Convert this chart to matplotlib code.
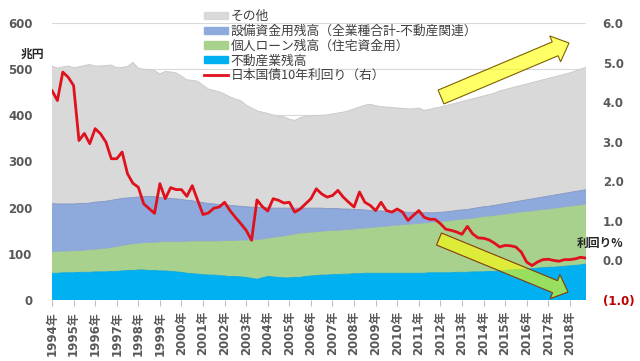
import numpy as np
import matplotlib
matplotlib.use("Agg")
import matplotlib.pyplot as plt
import matplotlib.patches as mpatches
from matplotlib.transforms import IdentityTransform

plt.rcParams['font.family'] = ['DejaVu Sans', 'Noto Sans CJK JP']

# quarterly, 1994Q1 .. 2018Q4 (tops of each stacked band, 兆円)
years = list(range(1994, 2019))
year_labels = [f"{y}年" for y in years]

total_top = [507, 502, 505, 507, 503, 505, 508, 510, 507, 507,
             508, 509, 503, 504, 506, 515, 502, 500, 499, 497,
             490, 495, 494, 492, 485, 477, 476, 474, 465, 457,
             454, 451, 446, 440, 435, 432, 422, 416, 410, 407,
             404, 401, 398, 397, 392, 389, 395, 398, 399, 400,
             400, 401, 403, 405, 407, 410, 414, 418, 422, 424,
             421, 419, 418, 417, 416, 415, 414, 414, 416, 411,
             413, 416, 418, 421, 424, 427, 430, 433, 436, 439,
             442, 445, 448, 453, 456, 459, 462, 465, 468, 471,
             474, 477, 480, 483, 486, 489, 492, 496, 500, 504]

equip_top = [209, 208, 208, 208, 208, 209, 209, 210, 212, 213,
             214, 216, 218, 220, 221, 222, 223, 224, 224, 224,
             222, 221, 220, 219, 218, 216, 215, 213, 211, 209,
             208, 207, 206, 205, 204, 203, 202, 201, 201, 200,
             200, 199, 199, 199, 199, 199, 199, 199, 199, 199,
             199, 198, 198, 198, 197, 197, 196, 196, 195, 194,
             193, 193, 192, 192, 191, 191, 190, 190, 189, 189,
             189, 189, 190, 191, 192, 194, 195, 196, 198, 200,
             202, 203, 205, 207, 209, 211, 213, 215, 217, 219,
             221, 223, 225, 227, 229, 231, 233, 235, 237, 239]

loan_top = [105, 105, 106, 106, 107, 107, 108, 109, 110, 111,
            112, 114, 116, 118, 120, 122, 123, 124, 125, 125,
            126, 127, 127, 127, 127, 127, 128, 128, 128, 128,
            128, 128, 129, 129, 129, 130, 130, 130, 131, 132,
            134, 136, 137, 139, 141, 143, 145, 146, 147, 148,
            149, 150, 151, 151, 152, 153, 154, 155, 156, 157,
            158, 159, 160, 161, 162, 163, 164, 165, 166, 167,
            168, 169, 170, 171, 172, 174, 175, 176, 177, 179,
            181, 182, 183, 185, 186, 188, 189, 191, 192, 193,
            195, 196, 197, 199, 200, 202, 203, 205, 206, 208]

realestate = [58, 58, 59, 59, 59, 60, 60, 60, 61, 61,
              61, 62, 62, 63, 64, 64, 65, 65, 64, 64,
              63, 63, 62, 61, 60, 58, 57, 56, 55, 54,
              54, 53, 52, 51, 51, 50, 49, 47, 45, 48,
              51, 50, 49, 48, 48, 49, 49, 51, 52, 53,
              54, 54, 55, 55, 56, 56, 57, 57, 58, 58,
              58, 58, 58, 58, 58, 58, 58, 58, 58, 58,
              59, 59, 59, 59, 59, 60, 60, 60, 61, 61,
              61, 62, 62, 63, 64, 65, 66, 66, 67, 68,
              69, 70, 71, 71, 72, 73, 74, 75, 76, 78]

jgb10y = [4.29, 4.04, 4.76, 4.63, 4.42, 3.03, 3.21, 2.95, 3.33, 3.20,
          2.99, 2.57, 2.57, 2.74, 2.19, 1.95, 1.85, 1.43, 1.31, 1.19,
          1.94, 1.56, 1.84, 1.79, 1.79, 1.62, 1.89, 1.52, 1.16, 1.20,
          1.32, 1.35, 1.47, 1.26, 1.09, 0.93, 0.76, 0.51, 1.53, 1.36,
          1.25, 1.56, 1.52, 1.45, 1.47, 1.22, 1.30, 1.43, 1.56, 1.81,
          1.68, 1.60, 1.64, 1.77, 1.60, 1.47, 1.35, 1.73, 1.47, 1.39,
          1.26, 1.47, 1.26, 1.22, 1.30, 1.22, 1.01, 1.14, 1.26, 1.09,
          1.04, 1.04, 0.93, 0.79, 0.76, 0.72, 0.66, 0.86, 0.67, 0.57,
          0.56, 0.52, 0.44, 0.34, 0.38, 0.37, 0.34, 0.21, -0.04, -0.13,
          -0.04, 0.02, 0.03, 0.00, -0.02, 0.02, 0.02, 0.04, 0.08, 0.06]

labels = ['その他', '設備資金用残高（全業種合計-不動産関連）', '個人ローン残高（住宅資金用）',
          '不動産業残高', '日本国債10年利回り（右）']
# bottom -> top: 不動産, 個人ローン, 設備, その他
colors = ['#00B0F0', '#A9D18E', '#8EA9DB', '#D9D9D9']
edge_cols = ['#00A5E0', '#8FA8C8', '#7F93C0', '#C8C8C8']

re_ = np.array(realestate)
loan = np.array(loan_top) - re_
equip = np.array(equip_top) - np.array(loan_top)
other = np.array(total_top) - np.array(equip_top)
q = np.arange(len(total_top))

fig = plt.figure(figsize=(6.4, 3.61), dpi=100)
ax = fig.add_axes([52 / 640, 1 - 300 / 361, 534 / 640, 277 / 361])

ax.stackplot(q, re_, loan, equip, other, colors=colors, linewidth=0)
for top, ec in zip([re_, np.array(loan_top), np.array(equip_top), np.array(total_top)], edge_cols):
    ax.plot(q, top, color=ec, lw=0.6, zorder=2)

ax.set_xlim(0, 99)
ax.set_ylim(0, 600)
ax.set_yticks(range(0, 601, 100))
ax.grid(axis='y', color='#D9D9D9', lw=0.8, zorder=0)
ax.set_axisbelow(True)
ax.set_xticks(np.arange(0, 100, 4))
ax.set_xticklabels(year_labels, rotation=90, fontsize=8.5, fontweight='bold', color='#595959')
ax.tick_params(axis='x', length=4, color='#BFBFBF', pad=4)
ax.tick_params(axis='y', length=0, pad=14, labelsize=8.5, labelcolor='#595959')
for t in ax.get_yticklabels():
    t.set_fontweight('bold')
for s in ax.spines.values():
    s.set_visible(False)

ax2 = ax.twinx()
line, = ax2.plot(q, jgb10y, color='#E0101C', lw=2.0, zorder=5)
ax2.set_ylim(-1, 6)
ax2.set_yticks(range(-1, 7))
ax2.set_yticklabels(['(1.0)'] + [f"{v:.1f}" for v in range(0, 7)],
                    fontsize=8.5, fontweight='bold', color='#595959')
ax2.get_yticklabels()[0].set_color('#C00000')
ax2.tick_params(axis='y', length=0, pad=12)
for s in ax2.spines.values():
    s.set_visible(False)

handles = [mpatches.Patch(color=c) for c in colors[::-1]] + [line]
leg = fig.legend(handles, labels, loc='upper left', bbox_to_anchor=(204 / 640, 1 - 10 / 361),
                 frameon=False, borderpad=0, borderaxespad=0, labelspacing=0.14,
                 handlelength=1.9, handleheight=0.5, handletextpad=0.2,
                 prop={'family': ['Noto Sans CJK JP', 'DejaVu Sans'], 'size': 9.2})
for t in leg.get_texts():
    t.set_color('#404040')

fig.text(32 / 640, 1 - 54 / 361, '兆円', ha='center', va='center', fontsize=8.5,
         fontweight='bold', family=['Noto Sans CJK JP'], color='#262626')
fig.text(600 / 640, 1 - 243 / 361, '利回り%', ha='center', va='center', fontsize=8.5,
         fontweight='bold', family=['Noto Sans CJK JP', 'DejaVu Sans'], color='#262626')

# trend arrows (pixel positions, y measured from the bottom)
arr_face = (1.0, 1.0, 0.0, 0.6)
a1 = mpatches.FancyArrow(441, 361 - 97, 128, 54, width=15, head_width=28, head_length=15,
                         length_includes_head=True, transform=IdentityTransform(),
                         facecolor=arr_face, edgecolor='#7F6000', lw=0.8, zorder=10)
a2 = mpatches.FancyArrow(439, 361 - 239, 129, -53, width=13, head_width=26, head_length=14,
                         length_includes_head=True, transform=IdentityTransform(),
                         facecolor=arr_face, edgecolor='#843C0C', lw=0.8, zorder=10)
fig.add_artist(a1)
fig.add_artist(a2)

fig.savefig('out.png', dpi=100)
